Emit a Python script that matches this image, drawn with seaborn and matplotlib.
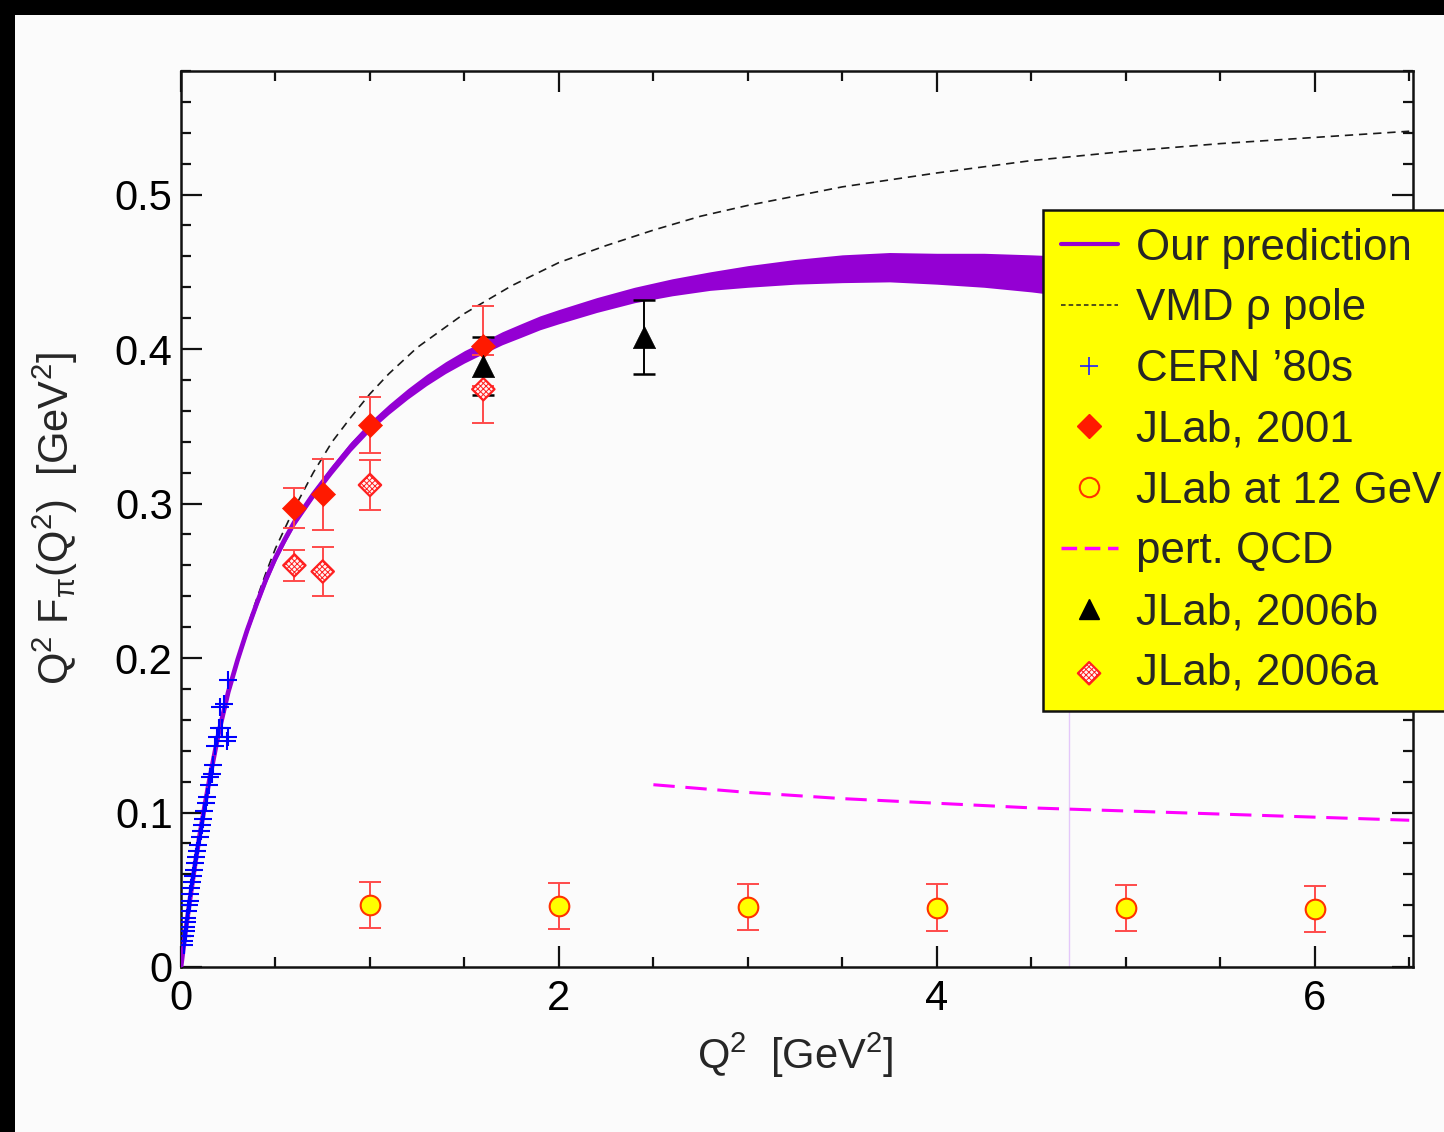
import matplotlib
matplotlib.use("Agg")
import matplotlib.pyplot as plt
import numpy as np
import seaborn as sns
from matplotlib.lines import Line2D
from matplotlib.patches import Rectangle
from matplotlib.ticker import MultipleLocator, FuncFormatter

# ---------------- data ----------------
pred_q2 = [0.0, 0.025, 0.05, 0.075, 0.1, 0.125, 0.15, 0.2, 0.25, 0.3, 0.35, 0.4, 0.45,
           0.5, 0.55, 0.6, 0.7, 0.8, 0.9, 1.0, 1.1, 1.2, 1.3, 1.4, 1.5, 1.6, 1.7, 1.8,
           1.9, 2.0, 2.2, 2.4, 2.6, 2.8, 3.0, 3.25, 3.5, 3.75, 4.0, 4.25, 4.5, 4.7]
pred_mid = [0.0, 0.024, 0.046, 0.067, 0.086, 0.104, 0.121, 0.152, 0.178, 0.199, 0.218,
            0.235, 0.251, 0.265, 0.277, 0.288, 0.306, 0.322, 0.337, 0.350, 0.361, 0.371,
            0.380, 0.388, 0.395, 0.401, 0.407, 0.412, 0.417, 0.421, 0.4285, 0.435,
            0.440, 0.444, 0.447, 0.450, 0.452, 0.453, 0.452, 0.451, 0.449, 0.447]
pred_half = [0.002, 0.002, 0.002, 0.002, 0.002, 0.002, 0.002, 0.002, 0.002, 0.0022,
             0.0024, 0.0025, 0.0025, 0.0025, 0.0025, 0.0025, 0.0027, 0.0029, 0.003,
             0.003, 0.0032, 0.0034, 0.0036, 0.0038, 0.004, 0.004, 0.0042, 0.0044,
             0.0045, 0.0046, 0.0048, 0.005, 0.0055, 0.006, 0.007, 0.008, 0.009,
             0.0095, 0.010, 0.011, 0.012, 0.013]

vmd_q2 = [0.0, 0.05, 0.1, 0.15, 0.2, 0.25, 0.3, 0.35, 0.4, 0.45, 0.5, 0.6, 0.7, 0.8,
          0.9, 1.0, 1.1, 1.25, 1.5, 1.75, 2.0, 2.25, 2.5, 2.75, 3.0, 3.25, 3.5, 4.0,
          4.5, 5.0, 5.5, 6.0, 6.5]
vmd_val = [0.0, 0.046, 0.0855, 0.1196, 0.149, 0.1756, 0.199, 0.2197, 0.238, 0.2553,
           0.271, 0.297, 0.320, 0.340, 0.356, 0.371, 0.384, 0.401, 0.423, 0.441, 0.456,
           0.467, 0.477, 0.486, 0.493, 0.499, 0.505, 0.514, 0.522, 0.528, 0.533, 0.537,
           0.541]

pqcd_q2 = [2.5, 3.0, 3.5, 4.0, 4.5, 5.0, 5.5, 6.0, 6.5]
pqcd_val = [0.118, 0.113, 0.109, 0.106, 0.103, 0.101, 0.099, 0.097, 0.095]

cern_q2 = [0.015, 0.018, 0.021, 0.024, 0.027, 0.030, 0.034, 0.038, 0.042, 0.046,
           0.050, 0.055, 0.060, 0.065, 0.070, 0.075, 0.080, 0.086, 0.092, 0.098,
           0.104, 0.110, 0.117, 0.124, 0.131, 0.138, 0.146, 0.154, 0.162, 0.170,
           0.180, 0.190, 0.200, 0.206, 0.217, 0.230, 0.243, 0.249, 0.250]
cern_val = [0.0145, 0.017, 0.020, 0.023, 0.026, 0.029, 0.032, 0.036, 0.040, 0.043,
            0.047, 0.051, 0.055, 0.059, 0.063, 0.067, 0.071, 0.075, 0.079, 0.084,
            0.088, 0.092, 0.096, 0.101, 0.106, 0.110, 0.118, 0.123, 0.125, 0.131,
            0.143, 0.149, 0.155, 0.168, 0.155, 0.170, 0.146, 0.149, 0.186]

jlab01_q2 = [0.6, 0.75, 1.0, 1.6]
jlab01_val = [0.297, 0.306, 0.351, 0.402]
jlab01_err = [0.013, 0.023, 0.018, 0.026]

jlab06a_q2 = [0.6, 0.75, 1.0, 1.6]
jlab06a_val = [0.260, 0.256, 0.312, 0.374]
jlab06a_err = [0.010, 0.016, 0.016, 0.022]

jlab06b_q2 = [1.6, 2.45]
jlab06b_val = [0.389, 0.408]
jlab06b_err = [0.019, 0.024]

jlab12_q2 = [1, 2, 3, 4, 5, 6]
jlab12_val = [0.040, 0.0395, 0.039, 0.0385, 0.038, 0.0375]
jlab12_err = [0.015, 0.015, 0.015, 0.015, 0.015, 0.015]

legend_labels = ["Our prediction", "VMD \u03c1 pole", "CERN \u201980s", "JLab, 2001",
                 "JLab at 12 GeV", "pert. QCD", "JLab, 2006b", "JLab, 2006a"]

# ---------------- style ----------------
sns.set_theme(style="ticks")
plt.rcParams["font.family"] = ["Liberation Sans", "DejaVu Sans"]
plt.rcParams["mathtext.default"] = "regular"
plt.rcParams["hatch.linewidth"] = 0.7
plt.rcParams["hatch.color"] = "#ff2020"

PURPLE = "#9400d3"
ERR_RED = "#ff4a4a"
BG = "#fbfbfb"

fig = plt.figure(figsize=(14.44, 11.32), dpi=100, facecolor="black")
fig.patches.append(Rectangle((15 / 1444, 0), 1, 1 - 15 / 1132, transform=fig.transFigure,
                             facecolor=BG, edgecolor="none", zorder=-10))
ax = fig.add_axes([181 / 1444, 1 - 967 / 1132, (1413 - 181) / 1444, (967 - 71) / 1132])
ax.set_facecolor(BG)

# thin vertical artefact line at the end of the band
ax.vlines(4.7, 0, 0.447, color="#e4c8fa", lw=1.0, zorder=1)

# VMD
sns.lineplot(x=vmd_q2, y=vmd_val, ax=ax, color="#1a1a1a", lw=1.2,
             linestyle=(0, (5, 3.5)), zorder=2)

# prediction band
lo = np.array(pred_mid) - np.array(pred_half)
hi = np.array(pred_mid) + np.array(pred_half)
ax.fill_between(pred_q2, lo, hi, color=PURPLE, lw=0, zorder=3)
sns.lineplot(x=pred_q2, y=pred_mid, ax=ax, color=PURPLE, lw=3.4, zorder=3)

# pert QCD
sns.lineplot(x=pqcd_q2, y=pqcd_val, ax=ax, color="#ff00ff", lw=2.2,
             linestyle=(0, (7, 3.5)), zorder=3)

# CERN
sns.scatterplot(x=cern_q2, y=cern_val, ax=ax, marker="+", color="#0000ff", s=170,
                linewidth=1.5, zorder=5)

# error bars
ax.errorbar(jlab12_q2, jlab12_val, yerr=jlab12_err, fmt="none", ecolor=ERR_RED,
            elinewidth=1.4, capsize=8, capthick=1.4, zorder=4)
ax.errorbar(jlab01_q2, jlab01_val, yerr=jlab01_err, fmt="none", ecolor=ERR_RED,
            elinewidth=1.4, capsize=8, capthick=1.4, zorder=4)
ax.errorbar(jlab06a_q2, jlab06a_val, yerr=jlab06a_err, fmt="none", ecolor=ERR_RED,
            elinewidth=1.4, capsize=8, capthick=1.4, zorder=4)
ax.errorbar(jlab06b_q2, jlab06b_val, yerr=jlab06b_err, fmt="none", ecolor="black",
            elinewidth=1.4, capsize=8, capthick=1.8, zorder=4)

# markers
sns.scatterplot(x=jlab12_q2, y=jlab12_val, ax=ax, marker="o", s=200,
                color="#ffff00", edgecolor="#ff3300", linewidth=1.5, zorder=6)
sns.scatterplot(x=jlab01_q2, y=jlab01_val, ax=ax, marker="D", s=150,
                color="#ff1a00", edgecolor="#ff1a00", linewidth=0.5, zorder=6)
sc06a = ax.scatter(jlab06a_q2, jlab06a_val, marker="D", s=130, facecolor="#fff4f4",
                   edgecolor="#ff2020", linewidth=1.6, hatch="xxxxxx", zorder=6)
sns.scatterplot(x=jlab06b_q2, y=jlab06b_val, ax=ax, marker="^", s=256,
                color="black", edgecolor="black", linewidth=0.5, zorder=7)

# axes
ax.set_xlim(0, 6.52)
ax.set_ylim(0, 0.58)
ax.xaxis.set_major_locator(MultipleLocator(2))
ax.xaxis.set_minor_locator(MultipleLocator(0.5))
ax.yaxis.set_major_locator(MultipleLocator(0.1))
ax.yaxis.set_minor_locator(MultipleLocator(0.02))
fmt = FuncFormatter(lambda v, _: f"{round(v, 3):g}")
ax.xaxis.set_major_formatter(fmt)
ax.yaxis.set_major_formatter(fmt)
ax.tick_params(which="both", direction="in", top=True, right=True, colors="#111111",
               labelcolor="black", labelsize=30)
ax.tick_params(which="major", length=15, width=1.6, pad=6)
ax.tick_params(which="minor", length=7.5, width=1.6)
ax.tick_params(axis="x", pad=9)
for sp in ax.spines.values():
    sp.set_linewidth(1.8)
    sp.set_color("#111111")
ax.set_xlabel("")
ax.set_ylabel("")

fig.text(795 / 1444, 1 - 1055 / 1132, r"Q$^2$  [GeV$^2$]", fontsize=30,
         ha="center", va="center")
fig.text(55 / 1444, 1 - 518 / 1132, r"Q$^2$ F$_\pi$(Q$^2$)  [GeV$^2$]", fontsize=30,
         ha="center", va="center", rotation=90)

# legend (extends past the right edge, as in the reference)
handles = [
    Line2D([], [], color=PURPLE, lw=3),
    Line2D([], [], color="#222222", lw=1.1, linestyle=(0, (3, 2))),
    Line2D([], [], color="#2020ff", marker="+", ms=13, mew=1.2, ls="none"),
    Line2D([], [], color="#ff1a00", marker="D", ms=12, ls="none"),
    Line2D([], [], marker="o", ms=14, mfc="none", mec="#ff3300", mew=1.5, ls="none"),
    Line2D([], [], color="#ff00ff", lw=2.5, linestyle=(0, (4.5, 2.2))),
    Line2D([], [], color="black", marker="^", ms=15, ls="none"),
    sc06a,
]
leg = ax.legend(handles, legend_labels, loc="upper left",
                bbox_to_anchor=(1043 / 1444, 1 - 210 / 1132),
                bbox_transform=fig.transFigure, borderaxespad=0, fontsize=31.6,
                frameon=True, fancybox=False, facecolor="#ffff00", edgecolor="#111111",
                framealpha=1, handlelength=1.3, handletextpad=0.42, labelspacing=0.45,
                borderpad=0.4, scatterpoints=1)
leg.get_frame().set_linewidth(1.8)
leg.set_zorder(20)

fig.savefig("out.png", dpi=100, facecolor=fig.get_facecolor())
